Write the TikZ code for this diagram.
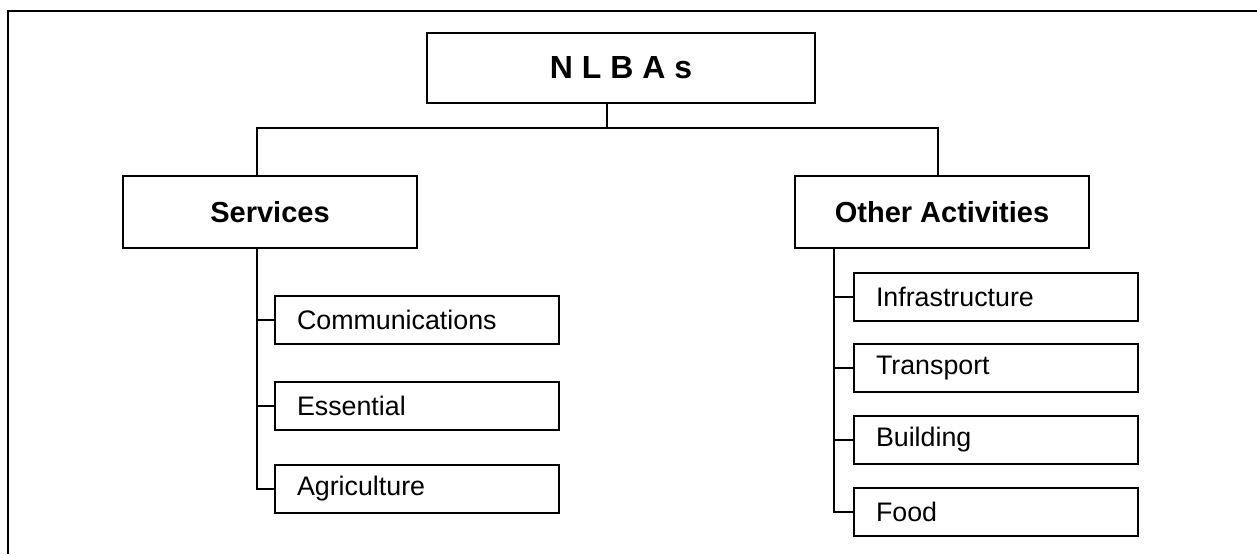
\documentclass[tikz,border=0pt]{standalone}
\usepackage{fontspec}
\setmainfont{Liberation Sans}
\begin{document}
\begin{tikzpicture}[x=0.5pt, y=-0.5pt, line width=1pt,
    headbox/.style={draw, line width=1.2pt, minimum width=194pt, minimum height=35pt,
      font=\fontsize{16}{19}\selectfont\bfseries},
    groupbox/.style={draw, line width=1.2pt, minimum width=147pt, minimum height=36pt,
      font=\fontsize{14.5}{17}\selectfont\bfseries},
    itembox/.style={draw, line width=1.2pt, minimum height=24pt, text width=120pt,
      inner xsep=11pt, align=left, font=\fontsize{13.4}{16}\selectfont}]
    \useasboundingbox (0, 0) rectangle (1257, 554) ;
    \draw[line width=1.3pt] (8, 554) -- (8, 11) -- (1257, 11) ;
    % top level
    \node[headbox] (nlbas) at (621, 68) {N L B A s} ;
    \node[groupbox] (svc) at (270, 212) {Services} ;
    \node[groupbox] (oth) at (942, 212) {Other Activities} ;
    \coordinate (split) at (607, 128) ;
    \coordinate (jl) at (257, 128) ;
    \coordinate (jr) at (938, 128) ;
    \draw (nlbas.south -| split) -- (split) ;
    \draw (jl |- svc.north) -- (jl) -- (jr) -- (jr |- oth.north) ;
    % services
    \node[itembox] (comm) at (417, 320) {Communications} ;
    \node[itembox] (ess) at (417, 406) {Essential} ;
    \node[itembox] (agri) at (417, 489) {Agriculture} ;
    \draw (jl |- svc.south) -- (jl |- agri.west) -- (agri.west) ;
    \draw (jl |- comm.west) -- (comm.west) ;
    \draw (jl |- ess.west) -- (ess.west) ;
    % other activities
    \coordinate (sr) at (834, 248) ;
    \node[itembox] (infra) at (996, 297) {Infrastructure} ;
    \node[itembox] (trans) at (996, 368) {Transport} ;
    \node[itembox] (build) at (996, 440) {Building} ;
    \node[itembox] (food) at (996, 512) {Food} ;
    \draw (sr |- oth.south) -- (sr |- food.west) -- (food.west) ;
    \draw (sr |- infra.west) -- (infra.west) ;
    \draw (sr |- trans.west) -- (trans.west) ;
    \draw (sr |- build.west) -- (build.west) ;
\end{tikzpicture}
\end{document}
